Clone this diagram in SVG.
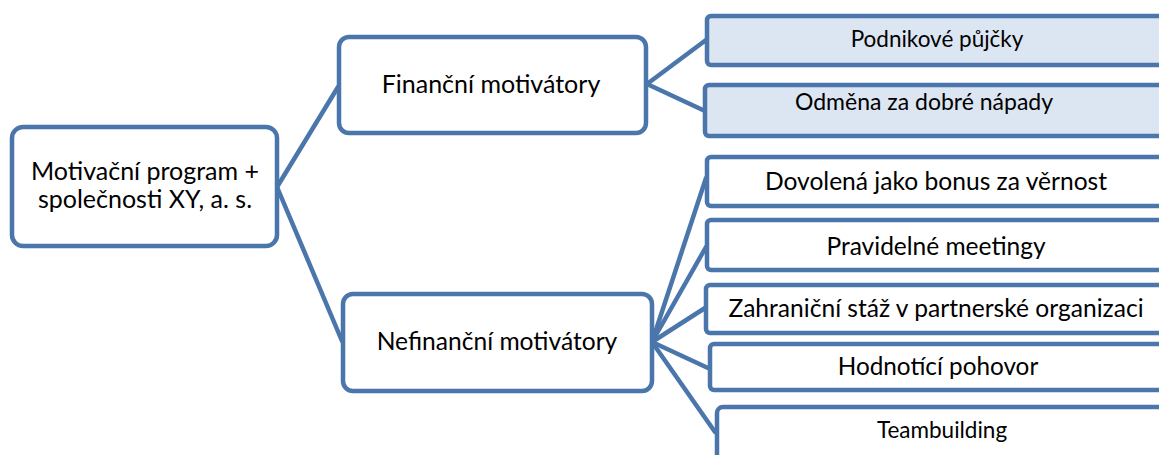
<svg xmlns="http://www.w3.org/2000/svg" width="1159" height="455" viewBox="0 0 1159 455">
  <style>
    .box { fill: #ffffff; stroke: #4a76ac; stroke-width: 4.5; }
    .tint { fill: #dce6f2; }
    .edge { fill: none; stroke: #4a76ac; stroke-width: 4.5; stroke-linecap: round; }
    text { font-family: Lato, "Noto Sans", sans-serif; fill: #000000; text-anchor: middle; }
  </style>

  <g id="connectors">
    <path class="edge" d="M277 187 L338 87"/>
    <path class="edge" d="M277 187 L342 341"/>
    <path class="edge" d="M647 84 L706 40"/>
    <path class="edge" d="M647 84 L705 111"/>
    <path class="edge" d="M652 342 L706 178"/>
    <path class="edge" d="M652 342 L706 247"/>
    <path class="edge" d="M652 342 L705 308"/>
    <path class="edge" d="M652 342 L708 368"/>
    <path class="edge" d="M652 342 L715 432"/>
  </g>

  <g id="root">
    <rect class="box" x="12" y="127" width="265" height="119" rx="11"/>
    <text x="145" y="180" font-size="25">Motivační program +</text>
    <text x="145" y="208" font-size="25">společnosti XY, a. s.</text>
  </g>

  <g id="financni">
    <rect class="box" x="339" y="37" width="307" height="96" rx="10"/>
    <text x="491" y="93" font-size="25">Finanční motivátory</text>
  </g>

  <g id="nefinancni">
    <rect class="box" x="343" y="294" width="309" height="97" rx="10"/>
    <text x="497" y="350" font-size="24.6">Nefinanční motivátory</text>
  </g>

  <g id="pujcky">
    <rect class="box tint" x="707" y="16" width="470" height="49" rx="4"/>
    <text x="937" y="47" font-size="22.5">Podnikové půjčky</text>
  </g>

  <g id="odmena">
    <rect class="box tint" x="705" y="85" width="472" height="51" rx="4"/>
    <text x="924" y="110" font-size="23">Odměna za dobré nápady</text>
  </g>

  <g id="dovolena">
    <rect class="box" x="707" y="157" width="470" height="49" rx="4"/>
    <text x="936" y="190" font-size="24.6">Dovolená jako bonus za věrnost</text>
  </g>

  <g id="meetingy">
    <rect class="box" x="707" y="220" width="470" height="50" rx="4"/>
    <text x="936" y="255" font-size="24.5">Pravidelné meetingy</text>
  </g>

  <g id="staz">
    <rect class="box" x="706" y="285" width="471" height="48" rx="4"/>
    <text x="936" y="317" font-size="24.6">Zahraniční stáž v partnerské organizaci</text>
  </g>

  <g id="pohovor">
    <rect class="box" x="710" y="344" width="467" height="46" rx="4"/>
    <text x="938" y="375" font-size="24.3">Hodnotící pohovor</text>
  </g>

  <g id="teambuilding">
    <rect class="box" x="717" y="407" width="460" height="70" rx="6"/>
    <text x="942" y="438" font-size="22.5">Teambuilding</text>
  </g>
</svg>
